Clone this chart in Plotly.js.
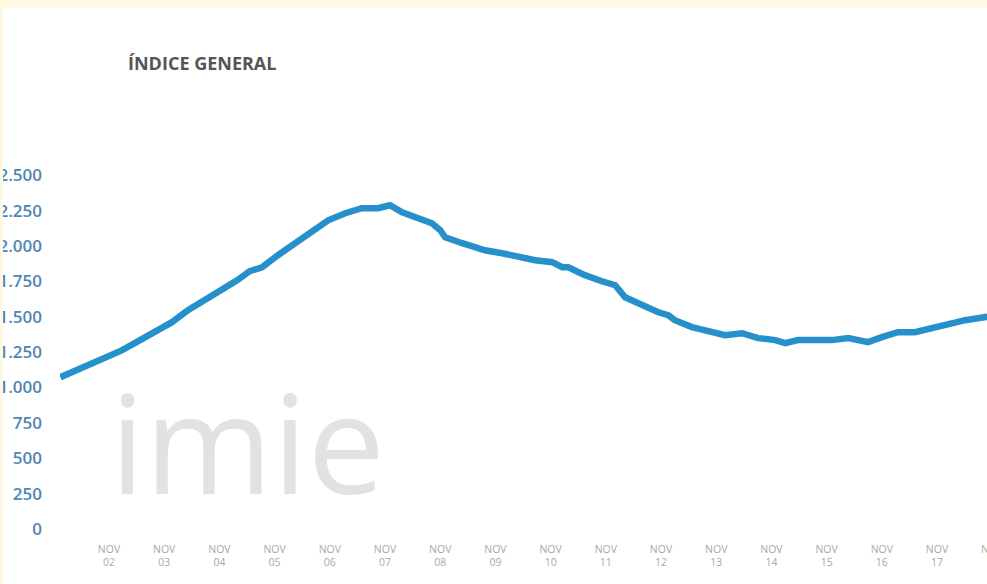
<!DOCTYPE html>
<html>
<head>
<meta charset="utf-8">
<script src="https://cdn.plot.ly/plotly-3.0.1.min.js"></script>
<style>
  html, body { margin: 0; padding: 0; width: 987px; height: 584px; overflow: hidden; background: #FFF8E5; }
  #chart { position: absolute; left: 3px; top: 8px; width: 1010px; height: 576px; }
</style>
</head>
<body>
<div id="chart"></div>
<script>
// Day of November (fractional) and index value
const days = [1.12, 1.62, 2.24, 2.53, 2.83, 3.14, 3.43, 3.74, 4.05, 4.32, 4.55, 4.77, 5.06, 5.37, 5.68, 5.97,
  6.28, 6.58, 6.87, 7.09, 7.31, 7.60, 7.85, 8.00, 8.09, 8.40, 8.81, 9.12, 9.41, 9.72, 10.03, 10.21, 10.32,
  10.62, 10.93, 11.17, 11.35, 11.66, 11.95, 12.13, 12.25, 12.56, 12.85, 13.16, 13.47, 13.76, 14.07, 14.25,
  14.48, 14.79, 15.10, 15.39, 15.75, 16.00, 16.29, 16.60, 16.91, 17.20, 17.51, 17.91];
const indice = [1073, 1158, 1264, 1328, 1391, 1462, 1547, 1617, 1688, 1758, 1822, 1850, 1935, 2020, 2097, 2182,
  2232, 2267, 2267, 2288, 2239, 2203, 2161, 2112, 2062, 2020, 1970, 1949, 1921, 1900, 1886, 1850, 1850,
  1794, 1751, 1723, 1638, 1582, 1532, 1511, 1476, 1427, 1405, 1370, 1384, 1349, 1335, 1314,
  1335, 1335, 1335, 1349, 1321, 1356, 1391, 1391, 1419, 1441, 1476, 1500];

const xTickVals = [2, 3, 4, 5, 6, 7, 8, 9, 10, 11, 12, 13, 14, 15, 16, 17, 18];
const xTickText = ["NOV<br>02", "NOV<br>03", "NOV<br>04", "NOV<br>05", "NOV<br>06", "NOV<br>07", "NOV<br>08",
  "NOV<br>09", "NOV<br>10", "NOV<br>11", "NOV<br>12", "NOV<br>13", "NOV<br>14", "NOV<br>15", "NOV<br>16",
  "NOV<br>17", "NOV<br>18"];
const yTickVals = [0, 250, 500, 750, 1000, 1250, 1500, 1750, 2000, 2250, 2500];
const yTickText = ["0", "250", "500", "750", "1.000", "1.250", "1.500", "1.750", "2.000", "2.250", "2.500"];

const trace = {
  x: days, y: indice, type: "scatter", mode: "lines",
  line: { color: "#2690cb", width: 6.5 },
  hoverinfo: "skip"
};

const layout = {
  width: 1010, height: 576,
  paper_bgcolor: "#ffffff", plot_bgcolor: "#ffffff",
  margin: { l: 57, r: 0, t: 139, b: 55 },
  showlegend: false,
  title: {
    text: "ÍNDICE GENERAL",
    xref: "container", yref: "container",
    x: 0.1238, xanchor: "left", y: 0.9028, yanchor: "middle",
    font: { family: "Open Sans, sans-serif", size: 18, color: "#555555", weight: 700 }
  },
  xaxis: {
    range: [1.112, 18.376],
    tickvals: xTickVals, ticktext: xTickText,
    showgrid: false, zeroline: false, showline: false, ticks: "",
    ticklabelstandoff: 12,
    tickfont: { family: "Open Sans, sans-serif", size: 10.5, color: "#a8a8a8" }
  },
  yaxis: {
    range: [0, 2700],
    tickvals: yTickVals, ticktext: yTickText,
    showgrid: false, zeroline: false, showline: false, ticks: "",
    ticklabelstandoff: 17,
    tickfont: { family: "Open Sans, sans-serif", size: 17, color: "#4f86b2", weight: 600 }
  },
  annotations: [{
    text: "imie", xref: "paper", yref: "paper",
    x: 0.050, xanchor: "left", y: 0.233, yanchor: "middle",
    showarrow: false,
    font: { family: "Open Sans, sans-serif", size: 138, color: "#e2e2e2" }
  }]
};

Plotly.newPlot("chart", [trace], layout, { displayModeBar: false, staticPlot: true });
</script>
</body>
</html>
